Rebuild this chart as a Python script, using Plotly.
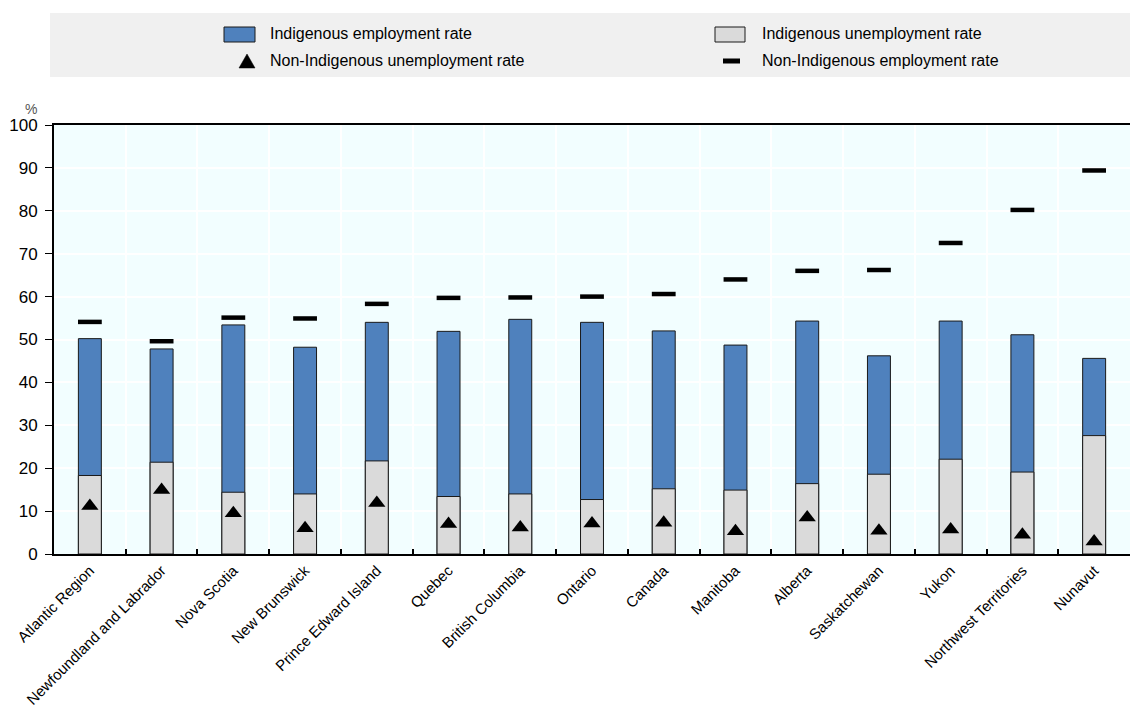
import plotly.graph_objects as go

categories = ["Atlantic Region", "Newfoundland and Labrador", "Nova Scotia", "New Brunswick",
              "Prince Edward Island", "Quebec", "British Columbia", "Ontario", "Canada",
              "Manitoba", "Alberta", "Saskatchewan", "Yukon", "Northwest Territories", "Nunavut"]
indig_emp = [50.2, 47.8, 53.4, 48.2, 54.0, 51.9, 54.7, 54.0, 52.0, 48.7, 54.3, 46.2, 54.3, 51.1, 45.6]
indig_unemp = [18.3, 21.4, 14.4, 14.0, 21.7, 13.4, 14.0, 12.7, 15.2, 14.9, 16.4, 18.6, 22.1, 19.1, 27.6]
nonindig_unemp = [11.2, 14.9, 9.5, 6.0, 11.9, 7.0, 6.2, 7.1, 7.3, 5.3, 8.5, 5.4, 5.7, 4.5, 2.9]
nonindig_emp = [54.1, 49.6, 55.1, 54.9, 58.3, 59.7, 59.8, 60.0, 60.6, 64.0, 66.0, 66.2, 72.5, 80.2, 89.4]
series_names = ["Indigenous employment rate", "Indigenous unemployment rate",
                "Non-Indigenous unemployment rate", "Non-Indigenous employment rate"]

FONT = "Liberation Sans, Arial, sans-serif"
W, H = 1130, 715
ML, MR, MT, MB = 54, 0, 125, 161
PW, PH = W - ML - MR, H - MT - MB

BLUE = "#4F81BD"
GREY = "#DADADA"
EDGE = "#1a1a1a"


def px(x):
    return (x - ML) / PW


def py(y):
    return (H - MB - y) / PH


fig = go.Figure()
fig.add_trace(go.Bar(x=categories, y=indig_emp, name=series_names[0],
                     marker=dict(color=BLUE, line=dict(color=EDGE, width=1)), width=0.32))
fig.add_trace(go.Bar(x=categories, y=indig_unemp, name=series_names[1],
                     marker=dict(color=GREY, line=dict(color=EDGE, width=1)), width=0.32))
fig.add_trace(go.Scatter(x=categories, y=nonindig_unemp, mode="markers", name=series_names[2],
                         marker=dict(symbol="triangle-up", size=15, color="black")))
fig.add_trace(go.Scatter(x=categories, y=nonindig_emp, mode="markers", name=series_names[3],
                         marker=dict(symbol="line-ew", size=17, color="black",
                                     line=dict(color="black", width=4.5))))

# grey legend band
fig.add_shape(type="rect", xref="paper", yref="paper",
              x0=px(50), x1=1.0, y0=py(77), y1=py(13),
              fillcolor="#F0F0F0", line=dict(width=0), layer="below")

# legend symbols
fig.add_shape(type="rect", xref="paper", yref="paper", x0=px(224), x1=px(255), y0=py(42), y1=py(27),
              fillcolor=BLUE, line=dict(color=EDGE, width=1))
fig.add_shape(type="rect", xref="paper", yref="paper", x0=px(715), x1=px(745), y0=py(42), y1=py(27),
              fillcolor=GREY, line=dict(color=EDGE, width=1))
fig.add_shape(type="path", xref="paper", yref="paper",
              path=f"M {px(239)} {py(68)} L {px(255)} {py(68)} L {px(247)} {py(54)} Z",
              fillcolor="black", line=dict(color="black", width=0.5))
fig.add_shape(type="line", xref="paper", yref="paper", x0=px(723), x1=px(740), y0=py(61), y1=py(61),
              line=dict(color="black", width=5))

legend_pos = [(268, 34), (760, 34), (268, 61), (760, 61)]
for name, (lx, ly) in zip(series_names, legend_pos):
    fig.add_annotation(text=name, xref="paper", yref="paper", x=px(lx), y=py(ly),
                       xanchor="left", yanchor="middle", showarrow=False,
                       font=dict(family=FONT, size=16, color="black"))

fig.add_annotation(text="%", xref="paper", yref="paper", x=px(23), y=py(99),
                   showarrow=False, font=dict(family=FONT, size=14, color="#555555"))

fig.update_layout(
    width=W, height=H,
    margin=dict(l=ML, r=MR, t=MT, b=MB, autoexpand=False),
    barmode="overlay",
    plot_bgcolor="#F2FEFF",
    paper_bgcolor="white",
    font=dict(family=FONT, size=16, color="black"),
    showlegend=False,
    xaxis=dict(type="category", tickangle=-45, tickson="boundaries", ticks="inside", ticklen=5,
               tickcolor="black", tickwidth=1.5, automargin=False,
               showline=True, linecolor="black", linewidth=2, mirror=True,
               showgrid=True, gridcolor="white", gridwidth=1.5,
               tickfont=dict(family=FONT, size=15), range=[-0.5, 14.5]),
    yaxis=dict(range=[0, 100], dtick=10, ticks="outside", ticklen=7, tickcolor="black",
               showline=True, linecolor="black", linewidth=2, automargin=False,
               ticklabelstandoff=4,
               showgrid=True, gridcolor="white", gridwidth=1.5, zeroline=False,
               tickfont=dict(family=FONT, size=17)),
)

fig.write_html("out.html", config={"displayModeBar": False},
               post_script="document.body.style.margin='0';document.body.style.overflow='hidden';")
